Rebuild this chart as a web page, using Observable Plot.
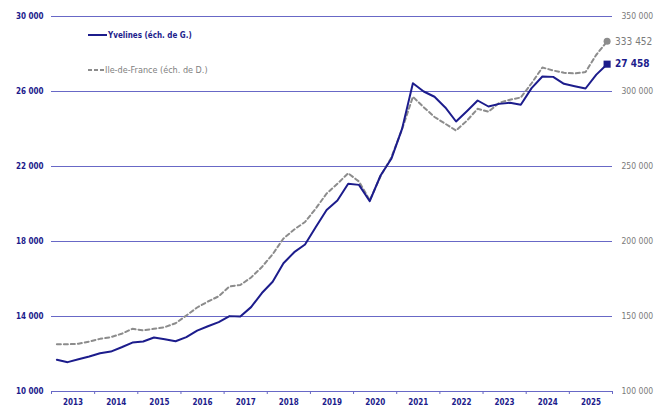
<!DOCTYPE html>
<html>
<head>
<meta charset="utf-8">
<script src="https://cdn.jsdelivr.net/npm/d3@7"></script>
<script src="https://cdn.jsdelivr.net/npm/@observablehq/plot@0.6"></script>
<style>
  html, body { margin: 0; padding: 0; background: #fff; }
  #wrap { position: relative; width: 665px; height: 409px; font-family: "DejaVu Sans Condensed", "Liberation Sans", sans-serif; }
  .leg { position: absolute; left: 88px; font-size: 8px; display: flex; align-items: center; white-space: nowrap; }
  .leg svg { margin-right: 1px; }
</style>
</head>
<body>
<div id="wrap"></div>
<script>
// ---- Data ----
const years = [2013, 2014, 2015, 2016, 2017, 2018, 2019, 2020, 2021, 2022, 2023, 2024, 2025];
// quarterly, 2013 Q1 .. 2025 Q4
const yvelines = [11690, 11565, 11720, 11870, 12040, 12130, 12360, 12610, 12670, 12880,
  12790, 12680, 12900, 13250, 13480, 13700, 14020, 14000, 14500, 15250,
  15850, 16840, 17430, 17840, 18770, 19680, 20190, 21080, 21020, 20150,
  21520, 22410, 24020, 26440, 26000, 25720, 25150, 24400, 24950, 25520,
  25200, 25340, 25400, 25290, 26180, 26800, 26780, 26410, 26280, 26160,
  26900, 27458];
const idf = [131500, 131500, 131800, 133300, 135100, 136200, 138500, 141800, 140700, 141800,
  142900, 145500, 150700, 156000, 160000, 163500, 170000, 171000, 176000, 183000,
  191500, 202000, 208000, 213000, 222000, 232000, 238500, 245500, 240000, 227500,
  243500, 256000, 275000, 296500, 289500, 283000, 278500, 274000, 280500, 288500,
  286500, 292500, 294500, 296000, 305500, 316000, 314000, 312500, 312000, 313000,
  324500, 333452];
const leftTicks = [10000, 14000, 18000, 22000, 26000, 30000];
const rightTicks = [100000, 150000, 200000, 250000, 300000, 350000];

// ---- Helpers ----
const fmt = v => d3.format(",")(Math.round(v)).replace(/,/g, " ");
const toLeft = v => 10000 + (v - 100000) / 12.5;   // right scale -> left scale
const toRight = v => 100000 + (v - 10000) * 12.5;

const qx = i => years[0] + (i + 0.5) / 4;
const dataY = yvelines.map((v, i) => ({x: qx(i), v, y: v}));
const dataI = idf.map((v, i) => ({x: qx(i), v, y: toLeft(v)}));
const lastY = dataY[dataY.length - 1];
const lastI = dataI[dataI.length - 1];

const navy = "#1c1c8c";
const grey = "#8c8c8c";
const grid = "#6868c6";
const font = "'DejaVu Sans Condensed', 'Liberation Sans', sans-serif";

const bounds = d3.range(years[0], years[years.length - 1] + 2);

const chart = Plot.plot({
  width: 665,
  height: 409,
  marginTop: 16,
  marginBottom: 18,
  marginLeft: 51,
  marginRight: 53,
  style: {fontFamily: font, background: "#fff"},
  x: {domain: [years[0], years[years.length - 1] + 1]},
  y: {domain: [10000, 30000]},
  marks: [
    Plot.ruleY(leftTicks, {stroke: grid, strokeWidth: 1}),
    Plot.axisY({anchor: "left", ticks: leftTicks, tickSize: 0, tickPadding: 8,
      tickFormat: fmt, fill: navy, fontWeight: "bold", fontSize: 8, label: null}),
    Plot.axisY({anchor: "right", ticks: rightTicks.map(toLeft), tickSize: 0, tickPadding: 9,
      tickFormat: d => fmt(toRight(d)), fill: "#7a7a7a", fontSize: 8.5, label: null}),
    Plot.axisX({ticks: bounds, tickSize: 3, stroke: grid, tickFormat: () => "", label: null}),
    Plot.axisX({ticks: years.map(y => y + 0.5), tickSize: 0, tickPadding: 8,
      tickFormat: d => String(Math.floor(d)), fill: navy, fontWeight: "bold", fontSize: 8, label: null}),
    Plot.line(dataI, {x: "x", y: "y", stroke: grey, strokeWidth: 2, strokeDasharray: "4,3"}),
    Plot.line(dataY, {x: "x", y: "y", stroke: navy, strokeWidth: 2}),
    Plot.dot([lastI], {x: "x", y: "y", r: 3.5, fill: grey, stroke: "none"}),
    Plot.dot([lastY], {x: "x", y: "y", r: 4, symbol: "square", fill: navy, stroke: "none"}),
    Plot.text([lastI], {x: "x", y: "y", text: d => fmt(d.v), dx: 8, textAnchor: "start", fill: "#7a7a7a", fontSize: 10}),
    Plot.text([lastY], {x: "x", y: "y", text: d => fmt(d.v), dx: 8, textAnchor: "start", fill: navy, fontWeight: "bold", fontSize: 10})
  ]
});

const wrap = document.getElementById("wrap");
wrap.appendChild(chart);

const leg1 = document.createElement("div");
leg1.className = "leg";
leg1.style.top = "29px";
leg1.style.color = navy;
leg1.style.fontWeight = "bold";
leg1.innerHTML = `<svg width="19" height="12"><line x1="0" y1="6" x2="19" y2="6" stroke="${navy}" stroke-width="2"/></svg><span>Yvelines (éch. de G.)</span>`;
wrap.appendChild(leg1);

const leg2 = document.createElement("div");
leg2.className = "leg";
leg2.style.top = "64px";
leg2.style.color = "#808080";
leg2.style.fontSize = "9px";
leg2.innerHTML = `<svg width="16" height="12"><line x1="0" y1="6" x2="16" y2="6" stroke="${grey}" stroke-width="2" stroke-dasharray="4,2"/></svg><span>Ile-de-France (éch. de D.)</span>`;
wrap.appendChild(leg2);
</script>
</body>
</html>
